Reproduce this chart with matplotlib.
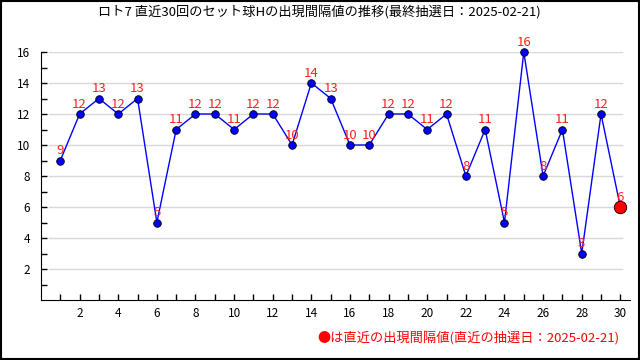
import matplotlib
matplotlib.use('Agg')
import matplotlib.pyplot as plt
from matplotlib.patches import Rectangle

plt.rcParams['font.family'] = ['Noto Sans CJK JP', 'DejaVu Sans']

# data: draw number and interval value
draws = list(range(1, 31))
intervals = [9, 12, 13, 12, 13, 5, 11, 12, 12, 11, 12, 12, 10, 14, 13,
             10, 10, 12, 12, 11, 12, 8, 11, 5, 16, 8, 11, 3, 12, 6]
title = 'ロト7 直近30回のセット球Hの出現間隔値の推移(最終抽選日：2025-02-21)'
note = '●は直近の出現間隔値(直近の抽選日：2025-02-21)'

fig = plt.figure(figsize=(6.4, 3.6), dpi=100)
ax = fig.add_axes([41 / 640, 60 / 360, 589 / 640, 248 / 360])

# grid lines
for v in range(2, 17, 2):
    ax.plot([0.4, 30.1], [v, v], color='#d8d8d8', lw=1, zorder=1)

ax.plot(draws, intervals, color='#0000ff', lw=1, zorder=2)
ax.scatter(draws[:-1], intervals[:-1], s=30, color='#0000ff',
           edgecolors='black', linewidths=0.6, zorder=3, clip_on=False)
ax.scatter(draws[-1:], intervals[-1:], s=80, color='#ff0000',
           edgecolors='black', linewidths=0.6, zorder=3, clip_on=False)

for x, y in zip(draws, intervals):
    ax.annotate(str(y), (x, y), xytext=(0, 2.5), textcoords='offset points',
                ha='center', va='bottom', color='#ff2020', fontsize=9.5,
                annotation_clip=False, zorder=4)

ax.set_xlim(0, 30.5)
ax.set_ylim(0, 16)
ax.set_xticks(range(2, 31, 2))
ax.set_xticks(range(1, 31), minor=True)
ax.set_yticks(range(2, 17, 2))
ax.set_yticks(range(1, 17), minor=True)
ax.tick_params(axis='both', which='both', direction='in', length=4,
               width=1, labelsize=8.5, pad=8)
ax.tick_params(axis='x', pad=5)
for s in ['top', 'right']:
    ax.spines[s].set_visible(False)

fig.text(319 / 640, 1 - 12 / 360, title, ha='center', va='center', fontsize=9.5)
fig.text(620 / 640, 1 - 338 / 360, note, ha='right', va='center',
         fontsize=9.5, color='#ff0000')

fig.patches.append(Rectangle((0.001, 0.002), 0.997, 0.996, transform=fig.transFigure,
                             fill=False, edgecolor='black', lw=1.5))

fig.savefig('out.png', dpi=100)
